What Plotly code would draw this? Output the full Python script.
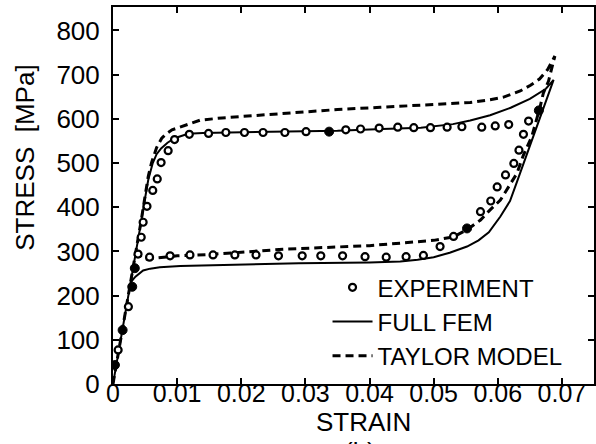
import plotly.graph_objects as go

# ---------------- data ----------------
exp_strain = [0.0003, 0.0008, 0.0015, 0.0024, 0.0030, 0.0034, 0.0039, 0.0044, 0.0047, 0.0053,
              0.0062, 0.0069, 0.0075, 0.0086, 0.0096, 0.0119, 0.0149, 0.0176, 0.0205, 0.0234,
              0.0268, 0.0301, 0.0337, 0.0363, 0.0386, 0.0415, 0.0444, 0.0469, 0.0495, 0.0521,
              0.0544, 0.0575, 0.0596, 0.0617,
              0.0648, 0.0664, 0.0640, 0.0633, 0.0625, 0.0612, 0.0599, 0.0589, 0.0573, 0.0552,
              0.0531, 0.0510, 0.0484, 0.0457, 0.0426, 0.0393, 0.0358, 0.0324, 0.0295, 0.0258,
              0.0223, 0.0190, 0.0156, 0.0120, 0.0089, 0.0057]
exp_stress = [43, 77, 122, 175, 220, 262, 294, 332, 366, 402,
              438, 464, 501, 528, 553, 565, 567, 569, 569, 569,
              569, 571, 571, 575, 577, 579, 581, 580, 580, 581,
              582, 581, 584, 587,
              595, 619, 565, 529, 499, 473, 446, 414, 390, 352,
              334, 311, 291, 288, 287, 288, 290, 290, 290, 290,
              292, 292, 292, 292, 290, 287]
exp_filled = [1, 0, 1, 0, 1, 1, 0, 0, 0, 0,
              0, 0, 0, 0, 0, 0, 0, 0, 0, 0,
              0, 0, 1, 0, 0, 0, 0, 0, 0, 0,
              0, 0, 0, 0,
              0, 1, 0, 0, 0, 0, 0, 0, 0, 1,
              0, 0, 0, 0, 0, 0, 0, 0, 0, 0,
              0, 0, 0, 0, 0, 0]

fem_strain = [0, 0.001, 0.002, 0.0028, 0.0036, 0.0044, 0.0049, 0.0055, 0.0062, 0.0068, 0.0075,
              0.0085, 0.0096, 0.0117, 0.014, 0.018, 0.022, 0.029, 0.035, 0.042, 0.048, 0.053,
              0.0557, 0.0588, 0.062, 0.065, 0.0675, 0.0687,
              0.0671, 0.0661, 0.065, 0.064, 0.063, 0.0619, 0.0604, 0.0586, 0.057, 0.0552,
              0.0525, 0.05, 0.0475, 0.0448, 0.04, 0.029, 0.02, 0.0105, 0.0073, 0.0058, 0.0047,
              0.0040, 0.0035, 0.0031, 0.0028]
fem_stress = [0, 82, 164, 230, 300, 368, 412, 462, 500, 520, 533,
              546, 556, 566, 568, 569, 570, 571, 573, 577, 580, 588,
              596, 608, 625, 645, 668, 688,
              622, 582, 540, 499, 458, 414, 379, 343, 325, 311,
              297, 287, 281, 277, 275, 273, 270, 267, 264, 261, 257,
              250, 243, 236, 230]

taylor_strain = [0, 0.001, 0.002, 0.0028, 0.0036, 0.0044, 0.005, 0.0055, 0.006, 0.0068, 0.0076,
                 0.0083, 0.0092, 0.0104, 0.0117, 0.0136, 0.017, 0.0214, 0.0292, 0.035, 0.0417,
                 0.047, 0.052, 0.0557, 0.0588, 0.0609, 0.0635, 0.0651, 0.0665, 0.0678, 0.0689,
                 0.0679, 0.0671, 0.0666, 0.0653, 0.064, 0.063, 0.0617, 0.0604, 0.0588, 0.0573,
                 0.0553, 0.0531, 0.05, 0.0463, 0.04, 0.035, 0.0265, 0.02, 0.015, 0.01, 0.0075,
                 0.006, 0.005, 0.0044, 0.004, 0.0037]
taylor_stress = [0, 82, 164, 230, 300, 370, 425, 470, 500, 535, 556,
                 566, 575, 581, 587, 597, 602, 607, 616, 621, 626,
                 630, 634, 637, 643, 649, 663, 676, 690, 712, 742,
                 685, 658, 627, 560, 518, 477, 446, 416, 394, 371,
                 350, 333, 325, 320, 313, 310, 305, 298, 293, 290, 287,
                 284, 282, 286, 294, 303]

x_ticks = [0, 0.01, 0.02, 0.03, 0.04, 0.05, 0.06, 0.07]
x_tick_text = ["0", "0.01", "0.02", "0.03", "0.04", "0.05", "0.06", "0.07"]
y_ticks = [0, 100, 200, 300, 400, 500, 600, 700, 800]

FONT = "Liberation Sans, Arial, Helvetica, sans-serif"
FS = 26
X_RANGE = [0, 0.075]
Y_RANGE = [0, 853]

fig = go.Figure()

fig.add_trace(go.Scatter(
    x=fem_strain, y=fem_stress, mode="lines", name="FULL FEM",
    line=dict(color="black", width=2), legendrank=2))
fig.add_trace(go.Scatter(
    x=taylor_strain, y=taylor_stress, mode="lines", name="TAYLOR MODEL",
    line=dict(color="black", width=3, dash="8px,5px"), legendrank=3))

hx = [s for s, f in zip(exp_strain, exp_filled) if not f]
hy = [s for s, f in zip(exp_stress, exp_filled) if not f]
fx = [s for s, f in zip(exp_strain, exp_filled) if f]
fy = [s for s, f in zip(exp_stress, exp_filled) if f]

fig.add_trace(go.Scatter(
    x=hx, y=hy, mode="markers", name="EXPERIMENT", legendrank=1,
    marker=dict(symbol="circle", size=7, color="white",
                line=dict(color="black", width=2.2))))
# filled experiment points; drawn on the label axis x2 (identical range)
fig.add_trace(go.Scatter(
    x=fx, y=fy, mode="markers", showlegend=False, xaxis="x2",
    marker=dict(symbol="circle", size=9, color="black",
                line=dict(color="black", width=1))))

axis_common = dict(
    showline=True, linecolor="black", linewidth=2, mirror="ticks",
    ticks="inside", ticklen=6, tickwidth=1.5, tickcolor="black",
    showgrid=False, zeroline=False,
    tickfont=dict(family=FONT, size=FS, color="black"),
)

fig.update_layout(
    xaxis=dict(range=X_RANGE, tickvals=x_ticks, showticklabels=False, **axis_common),
    xaxis2=dict(range=X_RANGE, tickvals=x_ticks, ticktext=x_tick_text,
                overlaying="x", anchor="free", position=0.022, side="bottom",
                showline=False, ticks="", showgrid=False, zeroline=False,
                tickfont=dict(family=FONT, size=25, color="black")),
    yaxis=dict(range=Y_RANGE, tickvals=y_ticks, ticklabelstandoff=6, **axis_common),
)

fig.update_layout(
    width=596, height=444,
    margin=dict(l=113, r=2, t=7, b=60, autoexpand=False),
    paper_bgcolor="white", plot_bgcolor="white",
    font=dict(family=FONT, size=FS, color="black"),
    showlegend=True,
    legend=dict(x=0.446, y=0.315, xanchor="left", yanchor="top",
                bgcolor="rgba(0,0,0,0)", itemwidth=40, tracegroupgap=0,
                font=dict(family=FONT, size=24, color="black")),
    annotations=[
        dict(text="STRAIN", x=0.52, y=-0.1, xref="paper", yref="paper",
             xanchor="center", yanchor="middle",
             showarrow=False, font=dict(family=FONT, size=FS, color="black")),
        dict(text="STRESS  [MPa]", x=-0.183, y=0.60, xref="paper", yref="paper",
             xanchor="center", yanchor="middle",
             textangle=-90, showarrow=False,
             font=dict(family=FONT, size=FS, color="black")),
        dict(text="(b)", x=0.513, y=-0.135, xref="paper", yref="paper",
             xanchor="center", yanchor="top", showarrow=False,
             font=dict(family=FONT, size=FS, color="black")),
    ],
)

fig.write_html("out.html")
